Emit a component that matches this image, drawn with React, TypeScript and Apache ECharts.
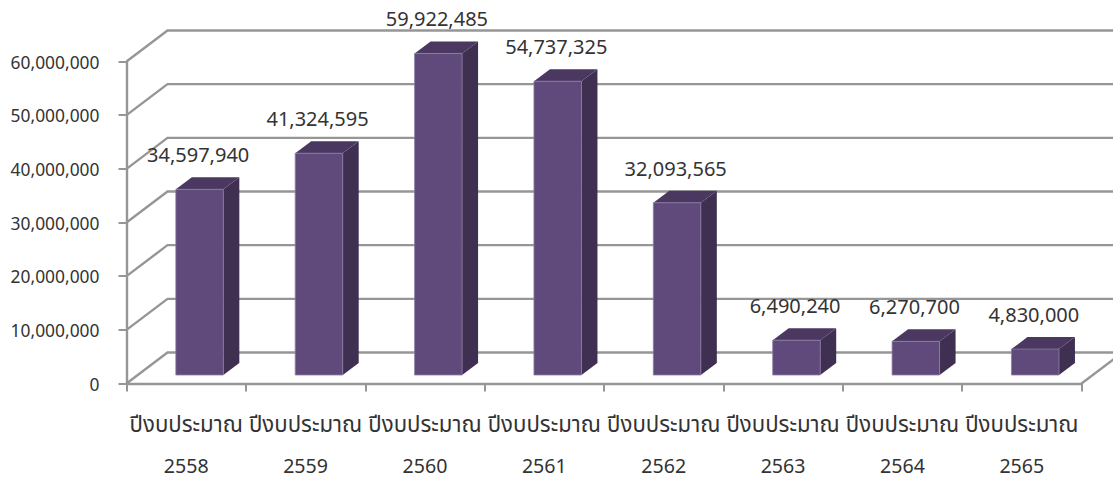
import React, { useEffect, useRef } from "react";
import * as echarts from "echarts";

const categoryPrefix = "ปีงบประมาณ";
const years = ["2558", "2559", "2560", "2561", "2562", "2563", "2564", "2565"];
const budget = [34597940, 41324595, 59922485, 54737325, 32093565, 6490240, 6270700, 4830000];
const wallTicks = [0, 10000000, 20000000, 30000000, 40000000, 50000000, 60000000];

const FONT = "'Noto Sans', 'Noto Sans Thai', Tahoma, sans-serif";
const GRID_COLOR = "#969696";
const TEXT_COLOR = "#333333";
const WALL_DX = 41;
const WALL_DY = -31;
const BAR_DX = 16;
const BAR_DY = -12;
const BAR_RATIO = 47.5 / 119.4;
const BAR_SHIFT_X = 13.4;
const BAR_SHIFT_Y = -8.5;
const WIDTH = 1113;

export default function App() {
  const ref = useRef<HTMLDivElement>(null);

  useEffect(() => {
    document.body.style.margin = "0";
    const chart = echarts.init(ref.current!, null, { renderer: "svg" });

    const lineStyle = { stroke: GRID_COLOR, lineWidth: 2.4, fill: "none" };

    chart.setOption({
      animation: false,
      backgroundColor: "#ffffff",
      grid: { left: 126.5, top: 61.5, width: 955, height: 322, containLabel: false, outerBoundsMode: "none" },
      xAxis: {
        type: "category",
        data: years.map((y) => `{a|${categoryPrefix}}\n{b|${y}}`),
        axisLine: { show: true, lineStyle: { color: GRID_COLOR, width: 2.4 } },
        axisTick: { show: true, length: 8, alignWithLabel: false, lineStyle: { color: GRID_COLOR, width: 2 } },
        axisLabel: {
          interval: 0,
          color: TEXT_COLOR,
          fontFamily: FONT,
          hideOverlap: false,
          margin: 19,
          rich: {
            a: { fontFamily: FONT, fontSize: 22.2, lineHeight: 42, color: TEXT_COLOR },
            b: { fontFamily: FONT, fontSize: 19.6, lineHeight: 41, color: TEXT_COLOR },
          },
        },
      },
      yAxis: {
        type: "value",
        min: 0,
        max: 60000000,
        interval: 10000000,
        axisLine: { show: true, lineStyle: { color: GRID_COLOR, width: 2.4 } },
        axisTick: { show: true, length: 8, lineStyle: { color: GRID_COLOR, width: 2 } },
        splitLine: { show: false },
        axisLabel: {
          color: TEXT_COLOR,
          fontFamily: FONT,
          fontSize: 17.4,
          margin: 27,
          formatter: (v: number) => v.toLocaleString("en-US"),
        },
      },
      series: [
        {
          type: "custom",
          name: "walls",
          silent: true,
          z: 1,
          data: wallTicks.map((v) => [0, v]),
          encode: { x: 0, y: 1 },
          renderItem: (params: any, api: any) => {
            const sys = params.coordSys;
            const y = api.coord([0, api.value(1)])[1];
            const children: any[] = [
              {
                type: "polyline",
                shape: {
                  points: [
                    [sys.x, y],
                    [sys.x + WALL_DX, y + WALL_DY],
                    [WIDTH + 2, y + WALL_DY],
                  ],
                },
                style: lineStyle,
              },
            ];
            if (api.value(1) === 0) {
              children.push({
                type: "line",
                shape: {
                  x1: sys.x + sys.width,
                  y1: y,
                  x2: sys.x + sys.width + WALL_DX,
                  y2: y + WALL_DY,
                },
                style: lineStyle,
              });
            }
            return { type: "group", children };
          },
        },
        {
          type: "custom",
          name: "budget",
          z: 2,
          data: budget.map((v, i) => [i, v]),
          encode: { x: 0, y: 1 },
          renderItem: (_params: any, api: any) => {
            const [cx, top0] = api.coord([api.value(0), api.value(1)]);
            const base0 = api.coord([api.value(0), 0])[1];
            const bw = api.size([1, 0])[0] * BAR_RATIO;
            const l = cx + BAR_SHIFT_X - bw / 2;
            const r = l + bw;
            const top = top0 + BAR_SHIFT_Y;
            const base = base0 + BAR_SHIFT_Y;
            const edge = { stroke: "#8b7ba3", lineWidth: 0.8 };
            return {
              type: "group",
              children: [
                {
                  type: "polygon",
                  shape: { points: [[r, top], [r + BAR_DX, top + BAR_DY], [r + BAR_DX, base + BAR_DY], [r, base]] },
                  style: { fill: "#3f2f50" },
                },
                {
                  type: "polygon",
                  shape: { points: [[l, top], [l + BAR_DX, top + BAR_DY], [r + BAR_DX, top + BAR_DY], [r, top]] },
                  style: { fill: "#4a3861" },
                },
                {
                  type: "rect",
                  shape: { x: l, y: top, width: bw, height: base - top },
                  style: { fill: "#604a7b", ...edge },
                },
              ],
            };
          },
        },
        {
          type: "custom",
          name: "labels",
          silent: true,
          z: 3,
          data: budget.map((v, i) => [i, v]),
          encode: { x: 0, y: 1 },
          renderItem: (_params: any, api: any) => {
            const [cx, top0] = api.coord([api.value(0), api.value(1)]);
            return {
              type: "text",
              x: cx + 12,
              y: top0 - 43,
              style: {
                text: api.value(1).toLocaleString("en-US"),
                fill: TEXT_COLOR,
                font: `20px ${FONT}`,
                align: "center",
                verticalAlign: "middle",
              },
            };
          },
        },
      ],
    });

    return () => chart.dispose();
  }, []);

  return <div ref={ref} style={{ width: 1113, height: 479 }} />;
}
